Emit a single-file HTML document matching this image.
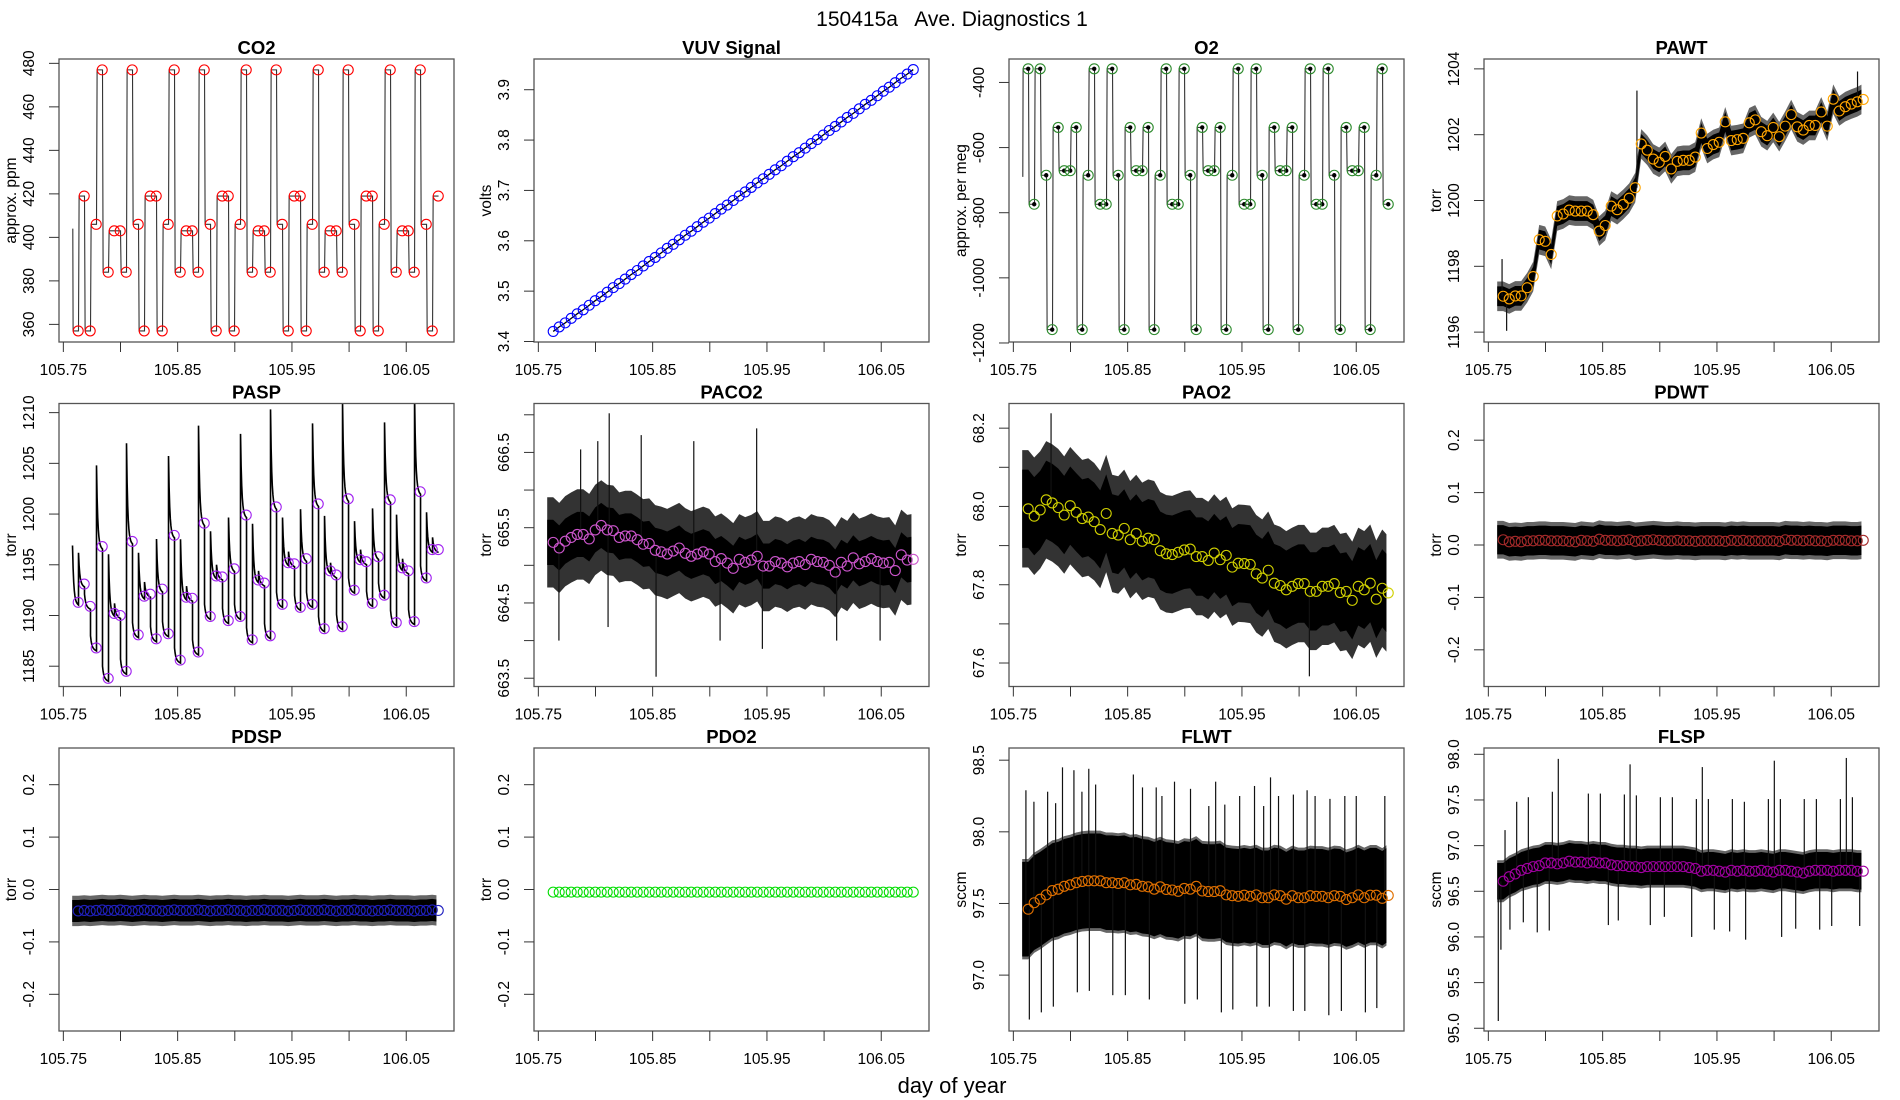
<!DOCTYPE html>
<html><head><meta charset="utf-8">
<style>
html,body{margin:0;padding:0;background:#fff;}
svg{display:block;font-family:"Liberation Sans",sans-serif;}
</style></head>
<body>
<svg id="fig" width="1900" height="1100" viewBox="0 0 1900 1100">
<text x="952" y="26" text-anchor="middle" font-size="21" style="white-space:pre">150415a   Ave. Diagnostics 1</text>
<text x="952" y="1093" text-anchor="middle" font-size="22">day of year</text>
</svg>
<script>
const t0 = 105.763, dt = 0.00525, nPts = 61;
const xTicks = [105.75,105.80,105.85,105.90,105.95,106.00,106.05];
const xTickLabels = ["105.75","","105.85","","105.95","","106.05"];

const co2Vals = [357,419,357,406,477,384,403,403,384,477,406,357,419,419,357,406,477,384,403,403,384,477,406,357,419,419,357,406,477,384,403,403,384,477,406,357,419,419,357,406,477,384,403,403,384,477,406,357,419,419,357,406,477,384,403,403,384,477,406,357,419];
const vuvVals = [3.420,3.429,3.437,3.446,3.455,3.463,3.472,3.481,3.489,3.498,3.507,3.515,3.524,3.533,3.541,3.550,3.559,3.567,3.576,3.585,3.593,3.602,3.611,3.619,3.628,3.637,3.645,3.654,3.663,3.671,3.680,3.689,3.697,3.706,3.715,3.723,3.732,3.741,3.749,3.758,3.767,3.775,3.784,3.793,3.801,3.810,3.819,3.827,3.836,3.845,3.853,3.862,3.871,3.879,3.888,3.897,3.905,3.914,3.923,3.931,3.940];
const o2Vals = [-358,-774,-358,-685,-1159,-538,-671,-671,-538,-1159,-685,-358,-774,-774,-358,-685,-1159,-538,-671,-671,-538,-1159,-685,-358,-774,-774,-358,-685,-1159,-538,-671,-671,-538,-1159,-685,-358,-774,-774,-358,-685,-1159,-538,-671,-671,-538,-1159,-685,-358,-774,-774,-358,-685,-1159,-538,-671,-671,-538,-1159,-685,-358,-774];
const pawtVals = [1197.09,1197.01,1197.10,1197.10,1197.35,1197.69,1198.81,1198.76,1198.36,1199.53,1199.59,1199.71,1199.68,1199.68,1199.68,1199.57,1199.07,1199.24,1199.83,1199.72,1199.88,1200.07,1200.39,1201.72,1201.53,1201.26,1201.16,1201.34,1200.96,1201.19,1201.22,1201.22,1201.32,1202.05,1201.58,1201.70,1201.77,1202.39,1201.82,1201.85,1201.89,1202.36,1202.45,1202.09,1201.97,1202.22,1201.94,1202.26,1202.61,1202.24,1202.14,1202.28,1202.28,1202.69,1202.26,1203.08,1202.72,1202.85,1202.93,1203.00,1203.07];
const paspVals = [1191.3,1193.1,1190.9,1186.8,1196.8,1183.8,1190.2,1190.0,1184.5,1197.3,1188.1,1191.9,1192.1,1187.7,1192.6,1188.2,1197.9,1185.6,1191.8,1191.7,1186.4,1199.1,1189.9,1193.9,1193.8,1189.5,1194.6,1189.9,1199.9,1187.6,1193.5,1193.2,1188.0,1200.7,1191.1,1195.2,1195.1,1190.8,1195.6,1191.1,1201.0,1188.7,1194.4,1194.0,1188.9,1201.5,1192.5,1195.5,1195.3,1191.2,1195.8,1192.0,1201.4,1189.3,1194.7,1194.4,1189.4,1202.2,1193.7,1196.5,1196.5];
const paco2Vals = [665.305,665.23,665.32,665.37,665.41,665.41,665.35,665.47,665.53,665.47,665.46,665.37,665.39,665.39,665.34,665.28,665.29,665.20,665.18,665.15,665.19,665.23,665.16,665.12,665.15,665.18,665.15,665.05,665.09,665.03,664.96,665.08,665.04,665.07,665.12,664.99,664.99,665.05,665.03,664.98,665.03,665.05,665.01,665.08,665.05,665.04,665.00,664.91,665.04,664.99,665.10,665.02,665.05,665.09,665.05,665.03,665.04,664.93,665.14,665.07,665.08];
const pao2Vals = [67.994,67.975,67.991,68.017,68.009,67.997,67.978,68.002,67.985,67.969,67.973,67.961,67.941,67.982,67.931,67.927,67.944,67.915,67.931,67.911,67.919,67.915,67.887,67.879,67.877,67.883,67.889,67.891,67.872,67.872,67.862,67.881,67.864,67.875,67.845,67.855,67.854,67.852,67.828,67.817,67.837,67.804,67.798,67.787,67.796,67.803,67.803,67.783,67.783,67.796,67.796,67.803,67.780,67.783,67.760,67.796,67.787,67.804,67.763,67.791,67.779];
const pdwtVals = [0.010,0.006,0.007,0.006,0.008,0.008,0.009,0.009,0.008,0.008,0.008,0.007,0.006,0.009,0.008,0.007,0.011,0.009,0.009,0.008,0.009,0.010,0.007,0.008,0.009,0.010,0.009,0.008,0.008,0.009,0.008,0.008,0.007,0.008,0.008,0.008,0.008,0.007,0.009,0.008,0.009,0.008,0.008,0.008,0.008,0.008,0.007,0.010,0.009,0.009,0.008,0.009,0.008,0.008,0.007,0.009,0.009,0.009,0.008,0.008,0.009];
const pdspVals = [-0.041,-0.040,-0.041,-0.040,-0.039,-0.040,-0.040,-0.039,-0.040,-0.041,-0.040,-0.039,-0.040,-0.040,-0.041,-0.040,-0.039,-0.040,-0.040,-0.040,-0.039,-0.040,-0.041,-0.040,-0.040,-0.039,-0.040,-0.040,-0.041,-0.040,-0.040,-0.039,-0.040,-0.040,-0.040,-0.041,-0.040,-0.039,-0.040,-0.040,-0.040,-0.039,-0.040,-0.041,-0.040,-0.040,-0.039,-0.040,-0.040,-0.041,-0.040,-0.040,-0.039,-0.040,-0.040,-0.040,-0.041,-0.040,-0.040,-0.039,-0.040];
const pdo2Vals = [-0.005,-0.005,-0.005,-0.005,-0.005,-0.005,-0.005,-0.005,-0.005,-0.005,-0.005,-0.005,-0.005,-0.005,-0.005,-0.005,-0.005,-0.005,-0.005,-0.005,-0.005,-0.005,-0.005,-0.005,-0.005,-0.005,-0.005,-0.005,-0.005,-0.005,-0.005,-0.005,-0.005,-0.005,-0.005,-0.005,-0.005,-0.005,-0.005,-0.005,-0.005,-0.005,-0.005,-0.005,-0.005,-0.005,-0.005,-0.005,-0.005,-0.005,-0.005,-0.005,-0.005,-0.005,-0.005,-0.005,-0.005,-0.005,-0.005,-0.005,-0.005];
const flwtVals = [97.46,97.505,97.53,97.56,97.59,97.60,97.62,97.63,97.645,97.654,97.658,97.658,97.658,97.645,97.645,97.64,97.645,97.63,97.634,97.62,97.616,97.60,97.616,97.598,97.594,97.585,97.605,97.60,97.62,97.587,97.583,97.583,97.589,97.56,97.554,97.55,97.558,97.55,97.56,97.54,97.54,97.56,97.554,97.53,97.554,97.54,97.54,97.554,97.55,97.55,97.54,97.554,97.55,97.527,97.54,97.56,97.54,97.558,97.558,97.536,97.556];
const flspVals = [96.61,96.66,96.69,96.73,96.75,96.77,96.78,96.81,96.81,96.80,96.81,96.83,96.82,96.82,96.81,96.82,96.81,96.81,96.79,96.78,96.78,96.77,96.77,96.76,96.77,96.77,96.77,96.77,96.77,96.77,96.77,96.76,96.75,96.72,96.73,96.73,96.72,96.71,96.73,96.72,96.73,96.72,96.72,96.73,96.72,96.71,96.73,96.73,96.72,96.71,96.70,96.72,96.73,96.73,96.73,96.72,96.73,96.73,96.73,96.72,96.72];

const pawtSpikeT = [105.880,106.073,105.762,105.766];
const pawtSpikeV = [1203.34,1203.92,1198.22,1196.04];
const paco2SpikeT = [105.812,105.941,105.802,105.840,105.886,105.787,105.853,105.768,105.946,105.909,106.049,106.011,105.811];
const paco2SpikeV = [667.02,666.82,666.65,666.73,666.65,666.54,663.52,664.0,663.89,664.0,664.0,664.0,664.18];
const pao2SpikeT = [105.783,106.009];
const pao2SpikeV = [68.238,67.566];
const flwtSpikeT = [105.761,105.768,105.780,105.787,105.793,105.803,105.810,105.816,105.822,105.855,105.863,105.875,105.880,105.891,105.905,105.927,105.921,105.935,105.948,105.961,105.969,105.975,105.982,105.995,106.007,106.014,106.027,106.040,106.050,106.075,105.764,105.7745,105.785,105.806,105.8165,105.837,105.848,105.869,105.900,105.911,105.932,105.942,105.963,105.974,105.995,106.005,106.026,106.037,106.058,106.068];
const flwtSpikeV = [98.29,98.21,98.28,98.20,98.45,98.43,98.28,98.44,98.33,98.40,98.31,98.31,98.25,98.35,98.30,98.35,98.18,98.19,98.25,98.32,98.18,98.38,98.25,98.26,98.29,98.25,98.23,98.25,98.25,98.25,96.69,96.74,96.78,96.88,96.89,96.86,96.86,96.83,96.80,96.83,96.74,96.76,96.78,96.78,96.75,96.75,96.72,96.75,96.74,96.77];
const flspSpikeT = [105.7646,105.7748,105.785,105.806,105.8112,105.8375,105.848,105.869,105.874,105.8795,105.9005,105.911,105.932,105.9372,105.9425,105.9635,105.974,105.995,106.0002,106.0055,106.0264,106.037,106.058,106.0632,106.0685,105.7587,105.761,105.7689,105.7806,105.7928,105.8033,105.855,105.8637,105.8917,105.904,105.9279,105.9477,105.9611,105.9751,106.0066,106.0189,106.0399,106.0504,106.0749];
const flspSpikeV = [97.17,97.48,97.53,97.59,97.95,97.57,97.57,97.56,97.89,97.55,97.53,97.53,97.51,97.86,97.51,97.51,97.48,97.51,97.93,97.51,97.51,97.51,97.51,97.96,97.53,95.08,95.86,96.08,96.16,96.05,96.07,96.13,96.18,96.13,96.22,96.0,96.08,96.06,95.97,96.0,96.09,96.08,96.12,96.12];

const ticksCO2 = [360,380,400,420,440,460,480];
const ticksVUV = [3.4,3.5,3.6,3.7,3.8,3.9];
const ticksO2 = [-1200,-1000,-800,-600,-400];
const ticksPAWT = [1196,1198,1200,1202,1204];
const ticksPASP = [1185,1190,1195,1200,1205,1210];
const ticksPACO2 = [663.5,664.0,664.5,665.0,665.5,666.0,666.5,667.0];
const labelsPACO2 = ["663.5","","664.5","","665.5","","666.5",""];
const ticksPAO2 = [67.6,67.7,67.8,67.9,68.0,68.1,68.2];
const labelsPAO2 = ["67.6","","67.8","","68.0","","68.2"];
const ticksPD = [-0.2,-0.1,0.0,0.1,0.2];
const labelsPD = ["-0.2","-0.1","0.0","0.1","0.2"];
const ticksFLWT = [97.0,97.5,98.0,98.5];
const labelsFLWT = ["97.0","97.5","98.0","98.5"];
const ticksFLSP = [95.0,95.5,96.0,96.5,97.0,97.5,98.0];
const labelsFLSP = ["95.0","95.5","96.0","96.5","97.0","97.5","98.0"];

const NS = "http://www.w3.org/2000/svg";
const svg = document.getElementById('fig');
const times = [];
for (let i = 0; i < nPts; i++) times.push(t0 + i * dt);
const XMIN = 105.7462, XSPAN = 395 / 1143;

function mk(tag, attrs, parent) {
  const e = document.createElementNS(NS, tag);
  for (const k in attrs) e.setAttribute(k, attrs[k]);
  (parent || svg).appendChild(e);
  return e;
}

const panels = [
  {key:'co2', title:'CO2', ylab:'approx. ppm', vals:co2Vals, ylim:[351.9,482], ticks:ticksCO2, labels:null, col:'#ff0000', kind:'step'},
  {key:'vuv', title:'VUV Signal', ylab:'volts', vals:vuvVals, ylim:[3.399,3.961], ticks:ticksVUV, labels:null, col:'#0000ff', kind:'line'},
  {key:'o2', title:'O2', ylab:'approx. per meg', vals:o2Vals, ylim:[-1197,-328], ticks:ticksO2, labels:null, col:'#2e8b2e', kind:'step'},
  {key:'pawt', title:'PAWT', ylab:'torr', vals:pawtVals, ylim:[1195.7,1204.3], ticks:ticksPAWT, labels:null, col:'#ffa500', kind:'band', half:0.3, half2:0.45, op:0.6, st:pawtSpikeT, sv:pawtSpikeV},
  {key:'pasp', title:'PASP', ylab:'torr', vals:paspVals, ylim:[1183,1210.9], ticks:ticksPASP, labels:null, col:'#a020f0', kind:'saw'},
  {key:'paco2', title:'PACO2', ylab:'torr', vals:paco2Vals, ylim:[663.39,667.15], ticks:ticksPACO2, labels:labelsPACO2, col:'#cc55cc', kind:'band', half:0.3, half2:0.6, op:0.8, st:paco2SpikeT, sv:paco2SpikeV},
  {key:'pao2', title:'PAO2', ylab:'torr', vals:pao2Vals, ylim:[67.54,68.263], ticks:ticksPAO2, labels:labelsPAO2, col:'#d0d000', kind:'band', half:0.1, half2:0.15, op:0.8, st:pao2SpikeT, sv:pao2SpikeV},
  {key:'pdwt', title:'PDWT', ylab:'torr', vals:pdwtVals, ylim:[-0.27,0.27], ticks:ticksPD, labels:labelsPD, col:'#a52a2a', kind:'band', half:0.028, half2:0.036, op:0.6, st:[], sv:[]},
  {key:'pdsp', title:'PDSP', ylab:'torr', vals:pdspVals, ylim:[-0.27,0.27], ticks:ticksPD, labels:labelsPD, col:'#2020c0', kind:'band', half:0.021, half2:0.029, op:0.6, st:[], sv:[]},
  {key:'pdo2', title:'PDO2', ylab:'torr', vals:pdo2Vals, ylim:[-0.27,0.27], ticks:ticksPD, labels:labelsPD, col:'#00dd00', kind:'none'},
  {key:'flwt', title:'FLWT', ylab:'sccm', vals:flwtVals, ylim:[96.61,98.585], ticks:ticksFLWT, labels:labelsFLWT, col:'#e07000', kind:'band', half:0.33, half2:0.35, op:0.6, st:flwtSpikeT, sv:flwtSpikeV},
  {key:'flsp', title:'FLSP', ylab:'sccm', vals:flspVals, ylim:[94.97,98.069], ticks:ticksFLSP, labels:labelsFLSP, col:'#a000a0', kind:'band', half:0.2, half2:0.23, op:0.6, st:flspSpikeT, sv:flspSpikeV}
];

panels.forEach((p, idx) => {
  const c = idx % 4, r = Math.floor(idx / 4);
  const L = 59 + 475 * c, T = 59 + 344.5 * r, W = 395, H = 283;
  const xs = t => L + (t - XMIN) / XSPAN * W;
  const ys = v => T + H - (v - p.ylim[0]) / (p.ylim[1] - p.ylim[0]) * H;
  const g = mk('g', {});
  
  
  const clipId = 'clip' + idx;
  const cp = mk('clipPath', {id: clipId}, g);
  mk('rect', {x: L, y: T, width: W, height: H}, cp);
  const plot = mk('g', {'clip-path': 'url(#' + clipId + ')'}, g);
  
  

  const v = p.vals;
  if (p.kind === 'step') {
    let d = 'M' + xs(times[0] - 0.9 * dt) + ',' + ys(p.key === 'co2' ? 404 : -690);
    d += ' L' + xs(times[0] - 0.85 * dt) + ',' + ys(v[0]);
    for (let i = 0; i < nPts; i++) {
      d += ' L' + xs(times[i] - 0.85 * dt) + ',' + ys(v[i]) + ' L' + xs(times[i] + 0.05 * dt) + ',' + ys(v[i]);
    }
    const ln = mk('path', {d: d, fill: 'none', stroke: '#333', 'stroke-width': 1.1}, plot);
    
    
  } else if (p.kind === 'line') {
    let d = '';
    for (let i = 0; i < nPts; i++) d += (i ? ' L' : 'M') + xs(times[i]) + ',' + ys(v[i]);
    const ln = mk('path', {d: d, fill: 'none', stroke: '#000', 'stroke-width': 1.3}, plot);
    
    
  } else if (p.kind === 'saw') {
    let d = '';
    for (let i = 0; i < nPts; i++) {
      const prev = i ? v[i - 1] : v[i] - 6;
      const rise = v[i] - prev;
      const peak = v[i] + (rise > 1 ? 2 + rise * 0.6 : 1.2);
      const s = times[i] - 0.95 * dt;
      for (let k = 0; k <= 10; k++) {
        const f = k / 10;
        const t = s + f * 1.0 * dt;
        const val = v[i] + (peak - v[i]) * Math.exp(-5 * f) - 0.3 * f;
        d += (i === 0 && k === 0 ? 'M' : ' L') + xs(t) + ',' + ys(val);
      }
    }
    const ln = mk('path', {d: d, fill: 'none', stroke: '#000', 'stroke-width': 1.6}, plot);
    
    
  } else if (p.kind === 'band') {
    const tS = times[0] - dt, tE = times[nPts - 1] - 0.3 * dt;
    function bandPath(h) {
      let up = '', dn = '';
      up += 'M' + xs(tS) + ',' + ys(v[0] + h);
      for (let i = 0; i < nPts; i++) up += ' L' + xs(Math.min(times[i], tE)) + ',' + ys(v[i] + h);
      for (let i = nPts - 1; i >= 0; i--) dn += ' L' + xs(Math.min(times[i], tE)) + ',' + ys(v[i] - h);
      dn += ' L' + xs(tS) + ',' + ys(v[0] - h) + ' Z';
      return up + dn;
    }
    const b2 = mk('path', {d: bandPath(p.half2), fill: '#000', 'fill-opacity': p.op}, plot);
    
    
    const b1 = mk('path', {d: bandPath(p.half), fill: '#000'}, plot);
    
    
    for (let j = 0; j < p.st.length; j++) {
      let m = v[0];
      for (let i = 0; i < nPts; i++) if (Math.abs(times[i] - p.st[j]) < dt / 2 + 1e-9) m = v[i];
      const sp = mk('line', {x1: xs(p.st[j]), x2: xs(p.st[j]), y1: ys(m), y2: ys(p.sv[j]), stroke: '#111', 'stroke-width': 1.2}, plot);
      
      
    }
  }
  for (let i = 0; i < nPts; i++) {
    if (p.kind === 'step' && p.key === 'o2') {
      const dot = mk('circle', {cx: xs(times[i]), cy: ys(v[i]), r: 2.2, fill: '#000'}, plot);
      
      
    }
    const ci = mk('circle', {cx: xs(times[i]), cy: ys(v[i]), r: 5, fill: 'none', stroke: p.col, 'stroke-width': 1.1}, g);
    
    
  }
  const box = mk('rect', {x: L, y: T, width: W, height: H, fill: 'none', stroke: '#555', 'stroke-width': 1.3}, g);
  
  
  xTicks.forEach((t, k) => {
    const tk = mk('line', {x1: xs(t), x2: xs(t), y1: T + H, y2: T + H + 10, stroke: '#333', 'stroke-width': 1}, g);
    
    
    if (xTickLabels[k]) {
      const tl = mk('text', {x: xs(t), y: T + H + 33, 'text-anchor': 'middle', 'font-size': 15.5}, g);
      tl.textContent = xTickLabels[k];
      
      
    }
  });
  p.ticks.forEach((tv, k) => {
    const y = ys(tv);
    const tk = mk('line', {x1: L - 10, x2: L, y1: y, y2: y, stroke: '#333', 'stroke-width': 1}, g);
    
    
    const lab = p.labels ? p.labels[k] : String(tv);
    if (lab) {
      const tl = mk('text', {x: L - 25, y: y, 'text-anchor': 'middle', 'font-size': 15.5, transform: 'rotate(-90 ' + (L - 25) + ' ' + y + ')'}, g);
      tl.textContent = lab;
      
      
    }
  });
  const yl = mk('text', {x: L - 43, y: T + H / 2, 'text-anchor': 'middle', 'font-size': 15.5, transform: 'rotate(-90 ' + (L - 43) + ' ' + (T + H / 2) + ')'}, g);
  yl.textContent = p.ylab;
  
  
  const ti = mk('text', {x: L + W / 2, y: T - 5, 'text-anchor': 'middle', 'font-size': 18.5, 'font-weight': 'bold'}, g);
  ti.textContent = p.title;
  
  
});
</script>
</body></html>
